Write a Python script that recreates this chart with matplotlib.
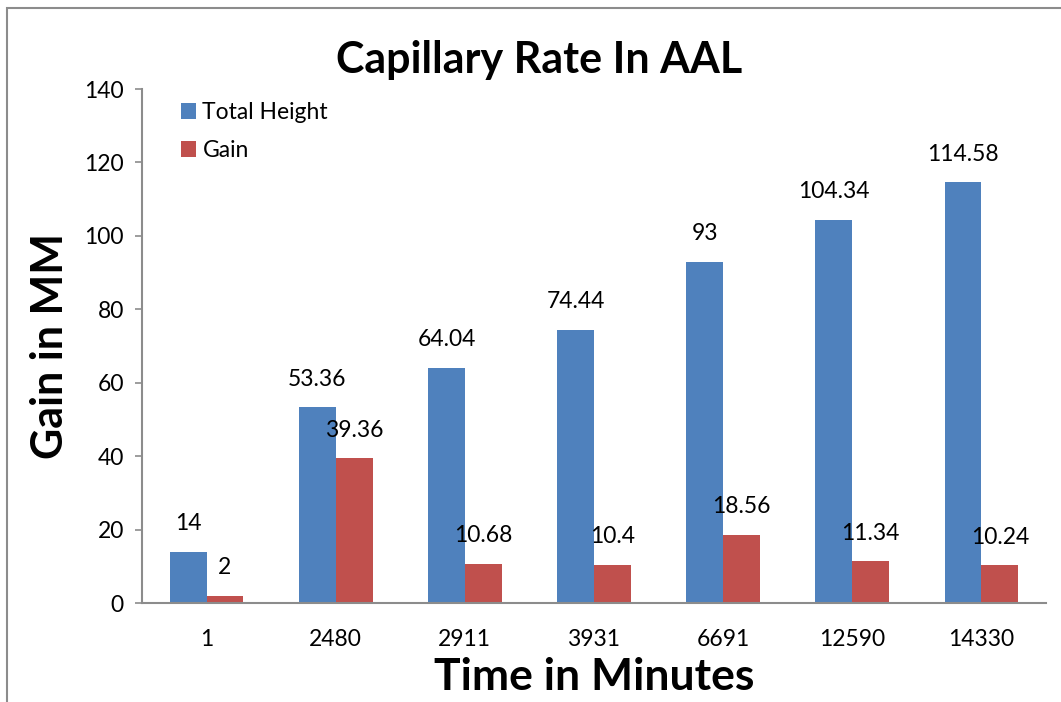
import numpy as np
import matplotlib.pyplot as plt
from matplotlib.patches import Rectangle

plt.rcParams['font.family'] = ['Lato', 'DejaVu Sans']

times = ['1', '2480', '2911', '3931', '6691', '12590', '14330']
total_height = [14, 53.36, 64.04, 74.44, 93, 104.34, 114.58]
gain = [2, 39.36, 10.68, 10.4, 18.56, 11.34, 10.24]

blue = '#4F81BD'
red = '#C0504D'

fig = plt.figure(figsize=(10.61, 7.02), dpi=100)
ax = fig.add_axes([142 / 1061, 1 - 603 / 702, 904 / 1061, 514 / 702])

# frame round the chart area (left/top visible like the original)
fig.patches.append(Rectangle((7 / 1061, -0.01), 1.05, 1 - 8 / 702 + 0.01,
                             transform=fig.transFigure, fill=False,
                             edgecolor='#8c8c8c', linewidth=1.5))

x = np.arange(len(times))
w = 0.285
b1 = ax.bar(x - w / 2, total_height, w, color=blue, label='Total Height')
b2 = ax.bar(x + w / 2, gain, w, color=red, label='Gain')

for bars, vals in ((b1, total_height), (b2, gain)):
    for bar, v in zip(bars, vals):
        ax.annotate('{:g}'.format(v), (bar.get_x() + bar.get_width() / 2, v),
                    xytext=(0, 28), textcoords='offset pixels',
                    ha='center', va='center', fontsize=16.5)

ax.set_xlim(-0.5, len(times) - 0.5)
ax.set_ylim(0, 140)
ax.set_yticks(range(0, 141, 20))
ax.set_xticks(x)
ax.set_xticklabels(times)
ax.tick_params(axis='x', length=0, pad=19, labelsize=16.5)
ax.tick_params(axis='y', length=5, width=1.2, color='#8c8c8c', labelsize=16.5, pad=8)
for s in ('top', 'right'):
    ax.spines[s].set_visible(False)
for s in ('left', 'bottom'):
    ax.spines[s].set_color('#8c8c8c')
    ax.spines[s].set_linewidth(1.5)

fig.text(539 / 1061, 1 - 60 / 702, 'Capillary Rate In AAL', fontsize=31,
         fontweight='bold', ha='center', va='center')
ax.set_xlabel('Time in Minutes', fontsize=32, fontweight='bold', labelpad=5)
ax.set_ylabel('Gain in MM', fontsize=31, fontweight='bold', labelpad=10)

ax.legend(loc='upper left', bbox_to_anchor=(0.02, 1.015), frameon=False,
          fontsize=16.5, handlelength=0.65, handleheight=0.65, handletextpad=0.3,
          labelspacing=0.75)

fig.savefig('out.png', dpi=100)
